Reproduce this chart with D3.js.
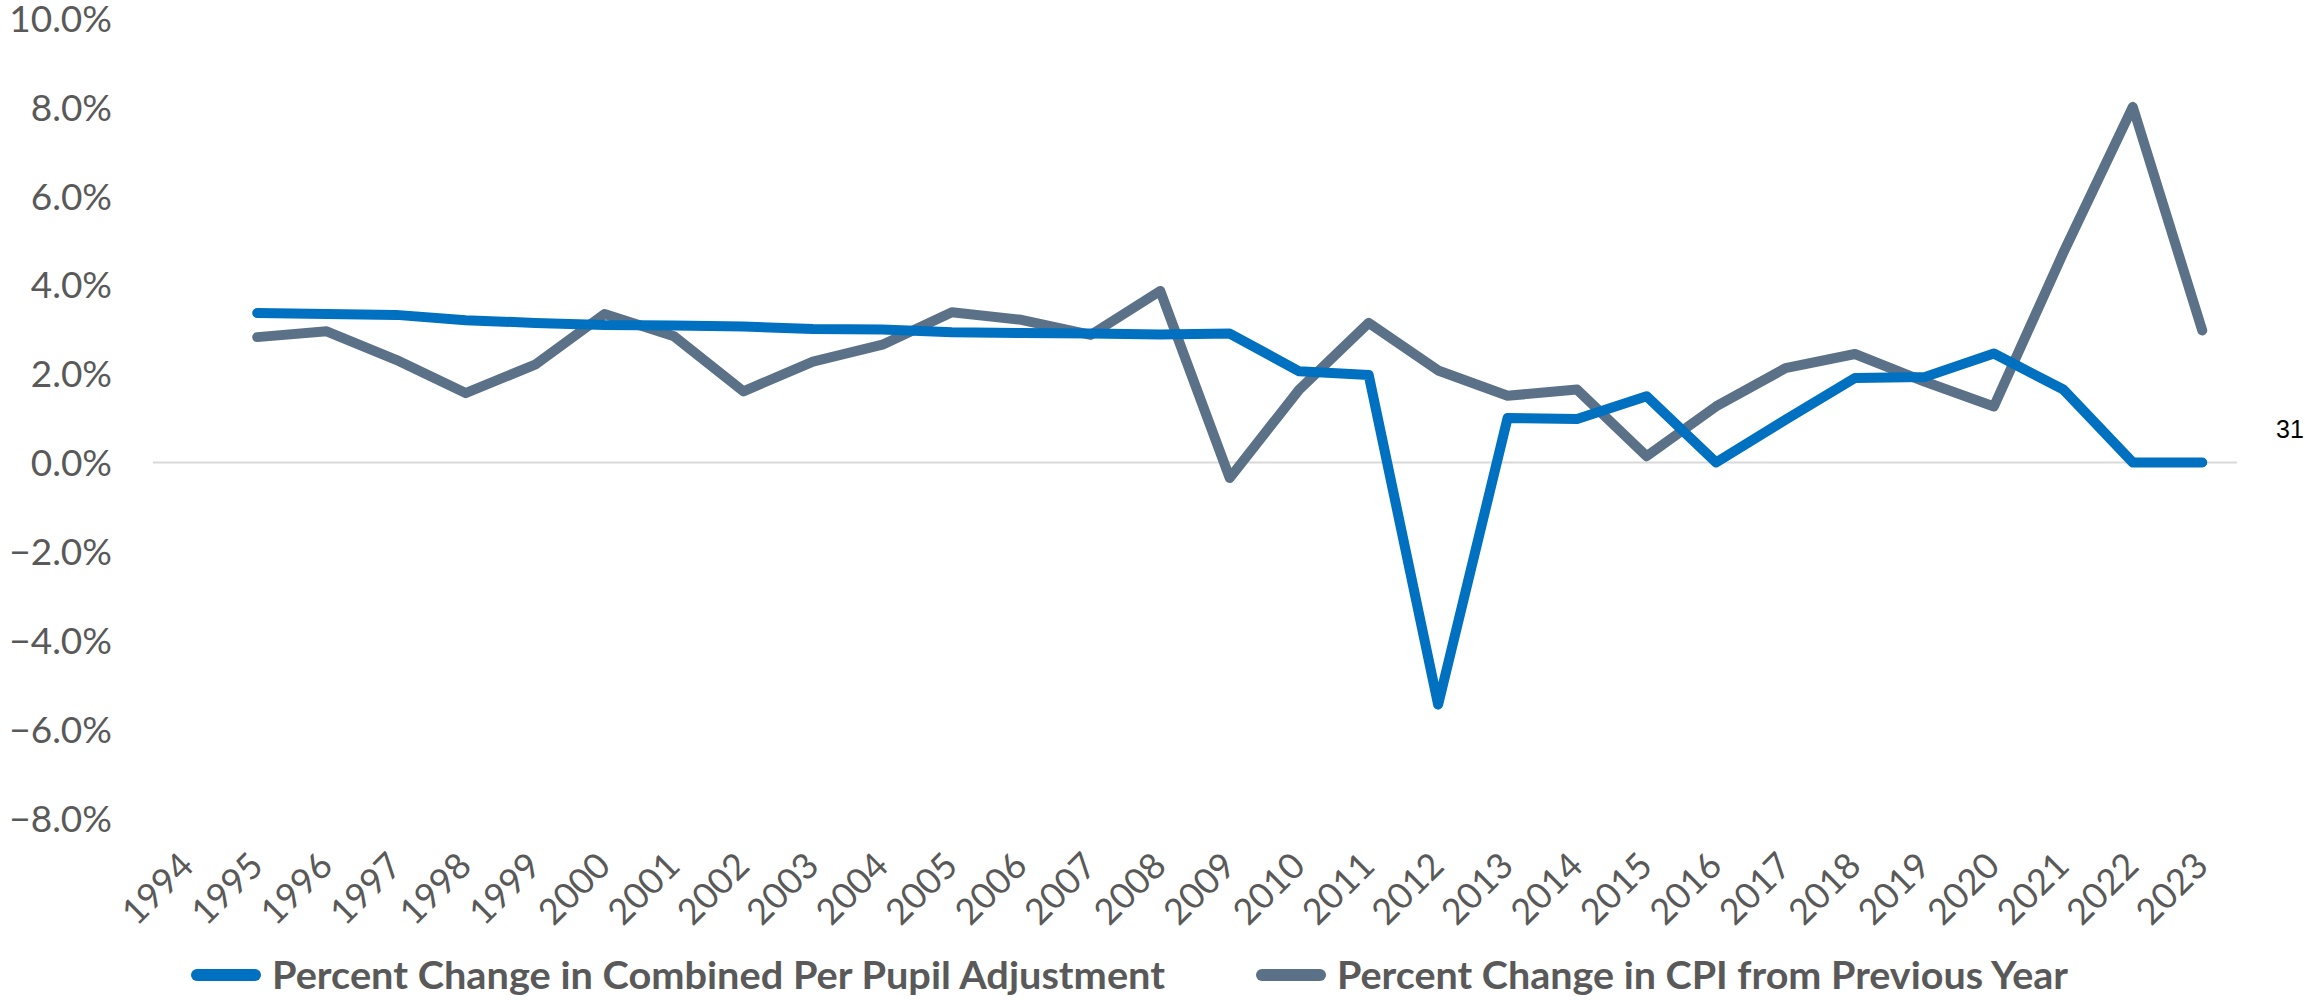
<!DOCTYPE html>
<html>
<head>
<meta charset="utf-8">
<script src="https://cdn.jsdelivr.net/npm/d3@7"></script>
<style>
  body { margin: 0; background: #ffffff; }
  .tick text { font-family: Lato, "Open Sans", sans-serif; fill: #595959; }
</style>
</head>
<body>
<div class="svg-container"></div>
<script>
// categories on the x axis (1994 has no values)
var years = [1994, 1995, 1996, 1997, 1998, 1999, 2000, 2001, 2002, 2003, 2004,
    2005, 2006, 2007, 2008, 2009, 2010, 2011, 2012, 2013, 2014, 2015, 2016,
    2017, 2018, 2019, 2020, 2021, 2022, 2023];

// Percent Change in Combined Per Pupil Adjustment
var perPupil = [null, 3.36, 3.34, 3.32, 3.20, 3.14, 3.09, 3.08, 3.06, 3.00, 2.99,
    2.93, 2.91, 2.90, 2.88, 2.90, 2.05, 1.97, -5.45, 1.00, 0.98, 1.49, 0.0,
    0.96, 1.90, 1.92, 2.45, 1.64, 0.0, 0.0];

// Percent Change in CPI from Previous Year
var cpi = [null, 2.82, 2.95, 2.31, 1.56, 2.20, 3.34, 2.84, 1.60, 2.27, 2.65,
    3.38, 3.21, 2.87, 3.86, -0.35, 1.64, 3.14, 2.07, 1.50, 1.64, 0.14, 1.26,
    2.12, 2.44, 1.82, 1.26, 4.72, 8.00, 2.97];

var yTicks = [-8, -6, -4, -2, 0, 2, 4, 6, 8, 10];

var legendNames = ["Percent Change in Combined Per Pupil Adjustment",
    "Percent Change in CPI from Previous Year"];
var colors = ["#0070C0", "#5B7188"];

var width = 2305;
var height = 1000;
var plotLeft = 153;
var plotRight = 2237;
var plotTop = 18;
var plotBottom = 818;

var svg = d3.select(".svg-container").append("svg")
    .attr("width", width)
    .attr("height", height);

// X
var x = d3.scaleBand()
    .domain(years)
    .range([plotLeft, plotRight])
    .padding(0);

// Y
var y = d3.scaleLinear()
    .domain([-8, 10])
    .range([plotBottom, plotTop]);

// zero line
svg.append("line")
    .attr("x1", plotLeft)
    .attr("x2", plotRight)
    .attr("y1", y(0))
    .attr("y2", y(0))
    .attr("stroke", "#D9D9D9")
    .attr("stroke-width", 2);

// Y axis labels
var yAxis = svg.append("g")
    .attr("transform", "translate(" + (plotLeft - 41) + ",0)")
    .call(d3.axisLeft(y).tickValues(yTicks).tickSize(0).tickPadding(0)
        .tickFormat(function(d) { return d3.format(".1f")(d) + "%"; }));
yAxis.select(".domain").remove();
yAxis.selectAll("text")
    .attr("font-size", 37)
    .attr("dy", "0.36em");

// X axis labels
var xAxis = svg.append("g")
    .attr("transform", "translate(0," + 868 + ")")
    .call(d3.axisBottom(x).tickSize(0).tickPadding(0));
xAxis.select(".domain").remove();
xAxis.selectAll("text")
    .attr("font-size", 36)
    .attr("y", 0)
    .attr("dy", 0)
    .attr("text-anchor", "end")
    .attr("transform", "translate(8,0) rotate(-45)");

// Lines
var series = [perPupil, cpi];

function makeLine(values) {
    return d3.line()
        .defined(function(d, i) { return values[i] != null; })
        .x(function(d, i) { return x(years[i]) + x.bandwidth() / 2; })
        .y(function(d) { return y(d); });
}

[1, 0].forEach(function(s) {
    svg.append("path")
        .datum(series[s])
        .attr("d", makeLine(series[s]))
        .attr("fill", "none")
        .attr("stroke", colors[s])
        .attr("stroke-width", 10)
        .attr("stroke-linecap", "round")
        .attr("stroke-linejoin", "round");
});

// stray label at right
svg.append("text")
    .attr("x", 2276)
    .attr("y", 438)
    .attr("font-family", "Liberation Sans, Arial, sans-serif")
    .attr("font-size", 25)
    .attr("fill", "#000000")
    .text("31");

// Legend
var legendX = [191, 1256];
var legendWidth = [893, 731];
var legend = svg.append("g");
legendNames.forEach(function(name, i) {
    legend.append("line")
        .attr("x1", legendX[i] + 6)
        .attr("x2", legendX[i] + 64)
        .attr("y1", 975)
        .attr("y2", 975)
        .attr("stroke", colors[i])
        .attr("stroke-width", 12)
        .attr("stroke-linecap", "round");
    legend.append("text")
        .attr("x", legendX[i] + 81)
        .attr("y", 989)
        .attr("font-family", "Lato, 'Open Sans', sans-serif")
        .attr("font-weight", "bold")
        .attr("font-size", 38)
        .attr("textLength", legendWidth[i])
        .attr("lengthAdjust", "spacingAndGlyphs")
        .attr("fill", "#595959")
        .text(name);
});
</script>
</body>
</html>
